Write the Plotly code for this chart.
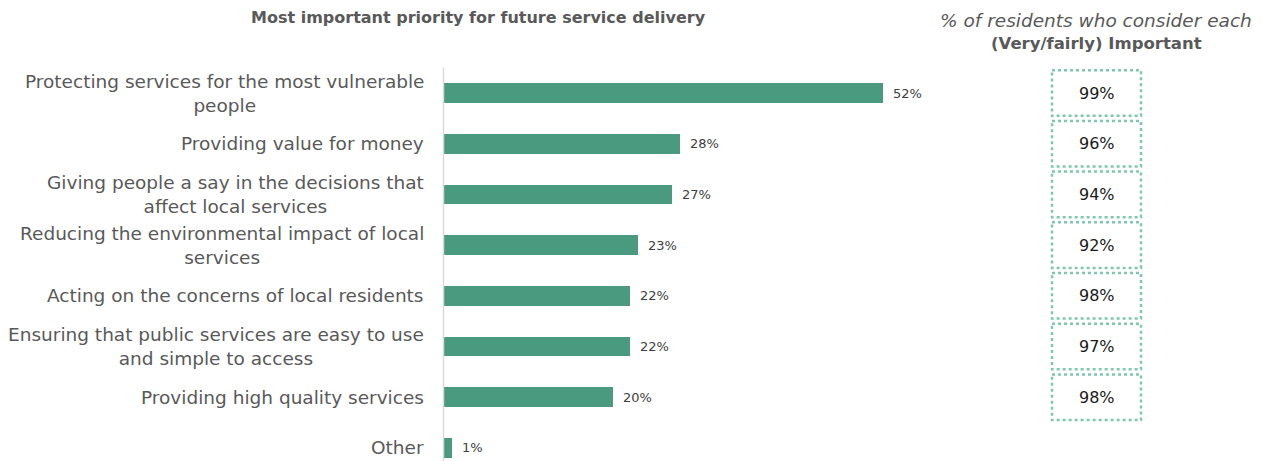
import plotly.graph_objects as go

# Priority statements (top to bottom)
categories = [
    "Protecting services for the most vulnerable<br>people",
    "Providing value for money",
    "Giving people a say in the decisions that<br>affect local services",
    "Reducing the environmental impact of local<br>services",
    "Acting on the concerns of local residents",
    "Ensuring that public services are easy to use<br>and simple to access",
    "Providing high quality services",
    "Other",
]
# Share naming each as the most important priority (%)
priority_pct = [52, 28, 27, 23, 22, 22, 20, 1]
# Share who consider each (very/fairly) important (%), no figure for "Other"
important_pct = [99, 96, 94, 92, 98, 97, 98]

W, H = 1263, 461
BAR_COLOR = "#4a9a7f"
BOX_COLOR = "#7fc8ae"
TEXT_GRAY = "#595959"
FONT = "DejaVu Sans"

ypos = list(range(len(categories)))

fig = go.Figure()
fig.add_trace(go.Bar(
    x=priority_pct,
    y=ypos,
    orientation="h",
    marker=dict(color=BAR_COLOR, line=dict(width=0)),
    width=0.39,
    hoverinfo="skip",
))

shapes = []
annotations = []

# Value labels just past the end of each bar
for i, v in enumerate(priority_pct):
    annotations.append(dict(
        x=v, xref="x", y=i, yref="y", text=f"{v}%", showarrow=False,
        xanchor="left", yanchor="middle", xshift=8,
        font=dict(family=FONT, size=13, color="#404040"),
    ))

# Category labels, right-aligned block with centred lines
for i, lab in enumerate(categories):
    annotations.append(dict(
        x=426 / W, xref="paper", y=i, yref="y",
        text=lab, showarrow=False, xanchor="right", yanchor="middle",
        align="center", font=dict(family=FONT, size=18.5, color=TEXT_GRAY),
    ))

# Vertical axis line
shapes.append(dict(
    type="line", xref="paper", yref="y",
    x0=443.5 / W, x1=443.5 / W, y0=-0.5, y1=7.6,
    line=dict(color="#d9d9d9", width=1.5),
))

# Dotted boxes holding the importance figures
bx0, bx1 = 1052 / W, 1141 / W
for i, v in enumerate(important_pct):
    shapes.append(dict(
        type="rect", xref="paper", yref="y",
        x0=bx0, x1=bx1, y0=i - 0.45, y1=i + 0.45,
        line=dict(color=BOX_COLOR, width=2.5, dash="dot"),
        fillcolor="rgba(0,0,0,0)",
    ))
    annotations.append(dict(
        x=(bx0 + bx1) / 2, xref="paper", y=i, yref="y",
        text=f"{v}%", showarrow=False, xanchor="center", yanchor="middle",
        font=dict(family=FONT, size=16, color="#1a1a1a"),
    ))

# Headings
annotations.append(dict(
    x=478 / W, xref="paper", y=1 - 18 / H, yref="paper",
    text="<b>Most important priority for future service delivery</b>",
    showarrow=False, xanchor="center", yanchor="middle",
    font=dict(family=FONT, size=16, color=TEXT_GRAY),
))
annotations.append(dict(
    x=1096 / W, xref="paper", y=1 - 20 / H, yref="paper",
    text="<i>% of residents who consider each</i>",
    showarrow=False, xanchor="center", yanchor="middle",
    font=dict(family=FONT, size=18.5, color=TEXT_GRAY),
))
annotations.append(dict(
    x=1096 / W, xref="paper", y=1 - 44 / H, yref="paper",
    text="<b>(Very/fairly) Important</b>",
    showarrow=False, xanchor="center", yanchor="middle",
    font=dict(family=FONT, size=16.5, color=TEXT_GRAY),
))

px_per_pct = (883 - 444) / 52
x_range_max = 60
x_dom0 = 444 / W
x_dom1 = (444 + x_range_max * px_per_pct) / W

# y: category i centred at 93 + 50.7*i px from top
row = 50.7
y_top = (0 - 93) / row
y_bot = (H - 93) / row

fig.update_layout(
    width=W, height=H,
    margin=dict(l=0, r=0, t=0, b=0),
    paper_bgcolor="white", plot_bgcolor="white",
    showlegend=False,
    bargap=0,
    xaxis=dict(domain=[x_dom0, x_dom1], range=[0, x_range_max],
               visible=False, fixedrange=True),
    yaxis=dict(domain=[0, 1], range=[y_bot, y_top],
               visible=False, fixedrange=True),
    shapes=shapes,
    annotations=annotations,
)

fig.write_html("out.html", config={"displayModeBar": False})
